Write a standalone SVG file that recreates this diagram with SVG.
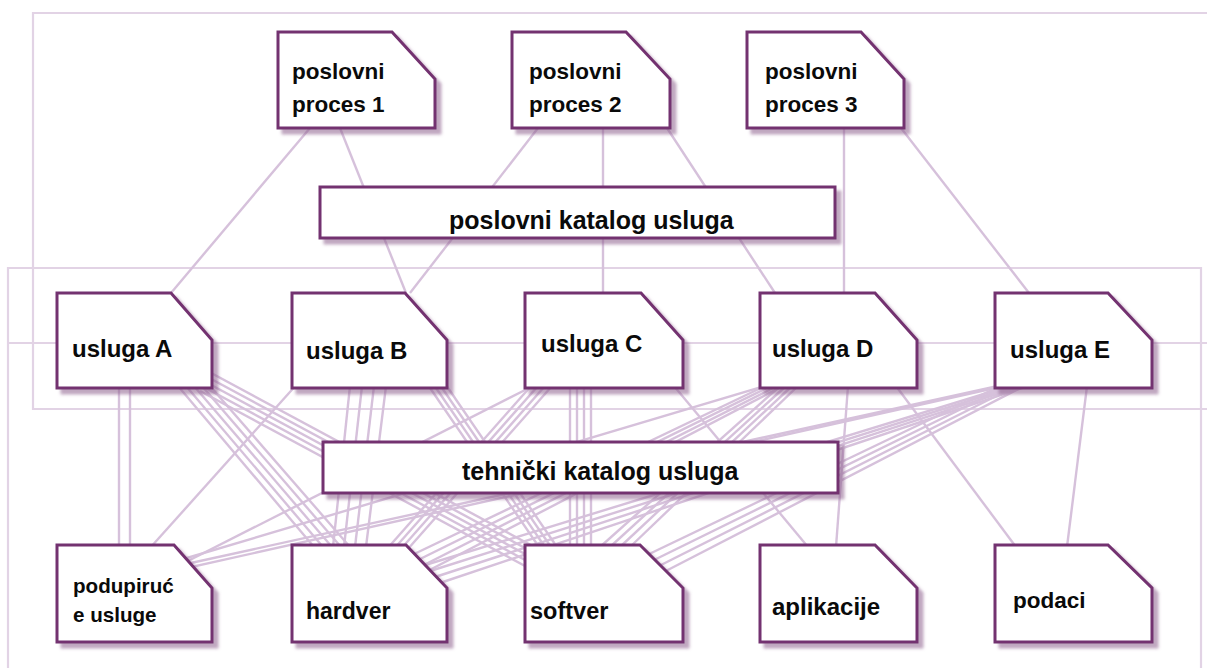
<svg xmlns="http://www.w3.org/2000/svg" width="1207" height="668" viewBox="0 0 1207 668">
<defs>
<filter id="sh" x="-10%" y="-10%" width="125%" height="130%">
<feDropShadow dx="5" dy="5" stdDeviation="1.5" flood-color="#8c5f8c" flood-opacity="0.55"/>
</filter>
<style>
.frame{fill:none;stroke:#e2d3e5;stroke-width:2.2}
.c{stroke:#d6c1db;stroke-width:2.4;fill:none}
.box{fill:#fff;stroke:#733170;stroke-width:3;filter:url(#sh)}
.t{font-family:"Liberation Sans",Arial,sans-serif;font-weight:bold;fill:#0a0a0a}
</style>
</defs>
<rect width="1207" height="668" fill="#fff"/>
<g id="frames">
<path class="frame" d="M1207,13 H33 V409 H1207"/>
<path class="frame" d="M8,668 V268 H1201 V668"/>
<path class="frame" d="M8,343 H1207"/>
</g>
<g id="connectors">
<line class="c" x1="310" y1="128" x2="171" y2="293"/>
<line class="c" x1="340" y1="128" x2="406" y2="293"/>
<line class="c" x1="538" y1="128" x2="410" y2="293"/>
<line class="c" x1="603" y1="128" x2="603" y2="293"/>
<line class="c" x1="667" y1="128" x2="775" y2="293"/>
<line class="c" x1="844" y1="128" x2="844" y2="293"/>
<line class="c" x1="901" y1="128" x2="1029" y2="293"/>
<line class="c" x1="119" y1="388" x2="119" y2="545"/>
<line class="c" x1="130" y1="388" x2="130" y2="545"/>
<line class="c" x1="178" y1="386" x2="314" y2="547"/>
<line class="c" x1="186" y1="386" x2="323" y2="547"/>
<line class="c" x1="194" y1="386" x2="332" y2="547"/>
<line class="c" x1="202" y1="386" x2="341" y2="547"/>
<line class="c" x1="210" y1="386" x2="350" y2="547"/>
<line class="c" x1="200" y1="367" x2="540" y2="550"/>
<line class="c" x1="200" y1="373" x2="540" y2="556"/>
<line class="c" x1="200" y1="379" x2="540" y2="562"/>
<line class="c" x1="200" y1="385" x2="540" y2="568"/>
<line class="c" x1="200" y1="391" x2="540" y2="574"/>
<line class="c" x1="298" y1="383" x2="150" y2="548"/>
<line class="c" x1="350" y1="386" x2="333" y2="547"/>
<line class="c" x1="362" y1="386" x2="344" y2="547"/>
<line class="c" x1="374" y1="386" x2="355" y2="547"/>
<line class="c" x1="386" y1="386" x2="366" y2="547"/>
<line class="c" x1="428" y1="385" x2="539" y2="547"/>
<line class="c" x1="434" y1="385" x2="545" y2="547"/>
<line class="c" x1="440" y1="385" x2="551" y2="547"/>
<line class="c" x1="446" y1="385" x2="557" y2="547"/>
<line class="c" x1="535" y1="385" x2="180" y2="565"/>
<line class="c" x1="531" y1="386" x2="386" y2="550"/>
<line class="c" x1="538" y1="386" x2="393" y2="550"/>
<line class="c" x1="545" y1="386" x2="400" y2="550"/>
<line class="c" x1="552" y1="386" x2="407" y2="550"/>
<line class="c" x1="570" y1="386" x2="570" y2="547"/>
<line class="c" x1="577" y1="386" x2="577" y2="547"/>
<line class="c" x1="584" y1="386" x2="584" y2="547"/>
<line class="c" x1="591" y1="386" x2="591" y2="547"/>
<line class="c" x1="674" y1="386" x2="808" y2="547"/>
<line class="c" x1="848" y1="386" x2="836" y2="547"/>
<line class="c" x1="896" y1="386" x2="1016" y2="547"/>
<line class="c" x1="765" y1="386" x2="170" y2="563"/>
<line class="c" x1="765" y1="386" x2="410" y2="556"/>
<line class="c" x1="771" y1="386" x2="414" y2="562"/>
<line class="c" x1="777" y1="386" x2="418" y2="568"/>
<line class="c" x1="783" y1="386" x2="422" y2="574"/>
<line class="c" x1="780" y1="386" x2="600" y2="547"/>
<line class="c" x1="786" y1="386" x2="610" y2="547"/>
<line class="c" x1="792" y1="386" x2="620" y2="547"/>
<line class="c" x1="798" y1="386" x2="630" y2="547"/>
<line class="c" x1="1087" y1="386" x2="1067" y2="547"/>
<line class="c" x1="998" y1="386" x2="168" y2="568"/>
<line class="c" x1="1004" y1="386" x2="160" y2="574"/>
<line class="c" x1="1010" y1="386" x2="422" y2="566"/>
<line class="c" x1="1016" y1="386" x2="427" y2="572"/>
<line class="c" x1="1022" y1="386" x2="432" y2="578"/>
<line class="c" x1="1028" y1="386" x2="437" y2="584"/>
<line class="c" x1="1000" y1="386" x2="645" y2="556"/>
<line class="c" x1="1008" y1="386" x2="650" y2="562"/>
<line class="c" x1="1016" y1="386" x2="655" y2="568"/>
<line class="c" x1="1024" y1="386" x2="660" y2="574"/>
</g>
<g id="pp1"><path class="box" d="M278,32 H392 L435,79 V128 H278 Z"/>
<text class="t" font-size="22.5" x="292" y="79">poslovni</text><text class="t" font-size="22.5" x="292" y="112">proces 1</text></g>
<g id="pp2"><path class="box" d="M512,32 H626 L670,79 V128 H512 Z"/>
<text class="t" font-size="22.5" x="529" y="79">poslovni</text><text class="t" font-size="22.5" x="529" y="112">proces 2</text></g>
<g id="pp3"><path class="box" d="M747,32 H861 L904,79 V128 H747 Z"/>
<text class="t" font-size="22.5" x="765" y="79">poslovni</text><text class="t" font-size="22.5" x="765" y="112">proces 3</text></g>
<g id="pk"><rect class="box" x="320" y="187" width="515" height="51"/>
<text class="t" font-size="25" x="449" y="229">poslovni katalog usluga</text></g>
<g id="uA"><path class="box" d="M57,293 H171 L212,340 V388 H57 Z"/>
<text class="t" font-size="24" x="72" y="357">usluga A</text></g>
<g id="uB"><path class="box" d="M292,293 H405 L447,340 V388 H292 Z"/>
<text class="t" font-size="24" x="306" y="359">usluga B</text></g>
<g id="uC"><path class="box" d="M525,293 H641 L683,340 V388 H525 Z"/>
<text class="t" font-size="24" x="541" y="352">usluga C</text></g>
<g id="uD"><path class="box" d="M760,293 H875 L917,340 V388 H760 Z"/>
<text class="t" font-size="24" x="772" y="357">usluga D</text></g>
<g id="uE"><path class="box" d="M995,293 H1108 L1152,340 V388 H995 Z"/>
<text class="t" font-size="24" x="1010" y="358">usluga E</text></g>
<g id="tk"><rect class="box" x="323" y="442" width="515" height="51"/>
<text class="t" font-size="25" x="462" y="480">tehnički katalog usluga</text></g>
<g id="rPod"><path class="box" d="M57,545 H174 L212,588 V642 H57 Z"/>
<text class="t" font-size="20.6" x="73" y="593">podupiruć</text><text class="t" font-size="20.6" x="73" y="622">e usluge</text></g>
<g id="rHw"><path class="box" d="M292,545 H406 L447,588 V642 H292 Z"/>
<text class="t" font-size="23" x="306" y="619">hardver</text></g>
<g id="rSw"><path class="box" d="M525,545 H640 L683,588 V642 H525 Z"/>
<text class="t" font-size="23.5" x="530" y="619">softver</text></g>
<g id="rApp"><path class="box" d="M760,545 H875 L917,588 V642 H760 Z"/>
<text class="t" font-size="24" x="772" y="615">aplikacije</text></g>
<g id="rData"><path class="box" d="M995,545 H1108 L1152,588 V642 H995 Z"/>
<text class="t" font-size="22.5" x="1013" y="608">podaci</text></g>
</svg>
